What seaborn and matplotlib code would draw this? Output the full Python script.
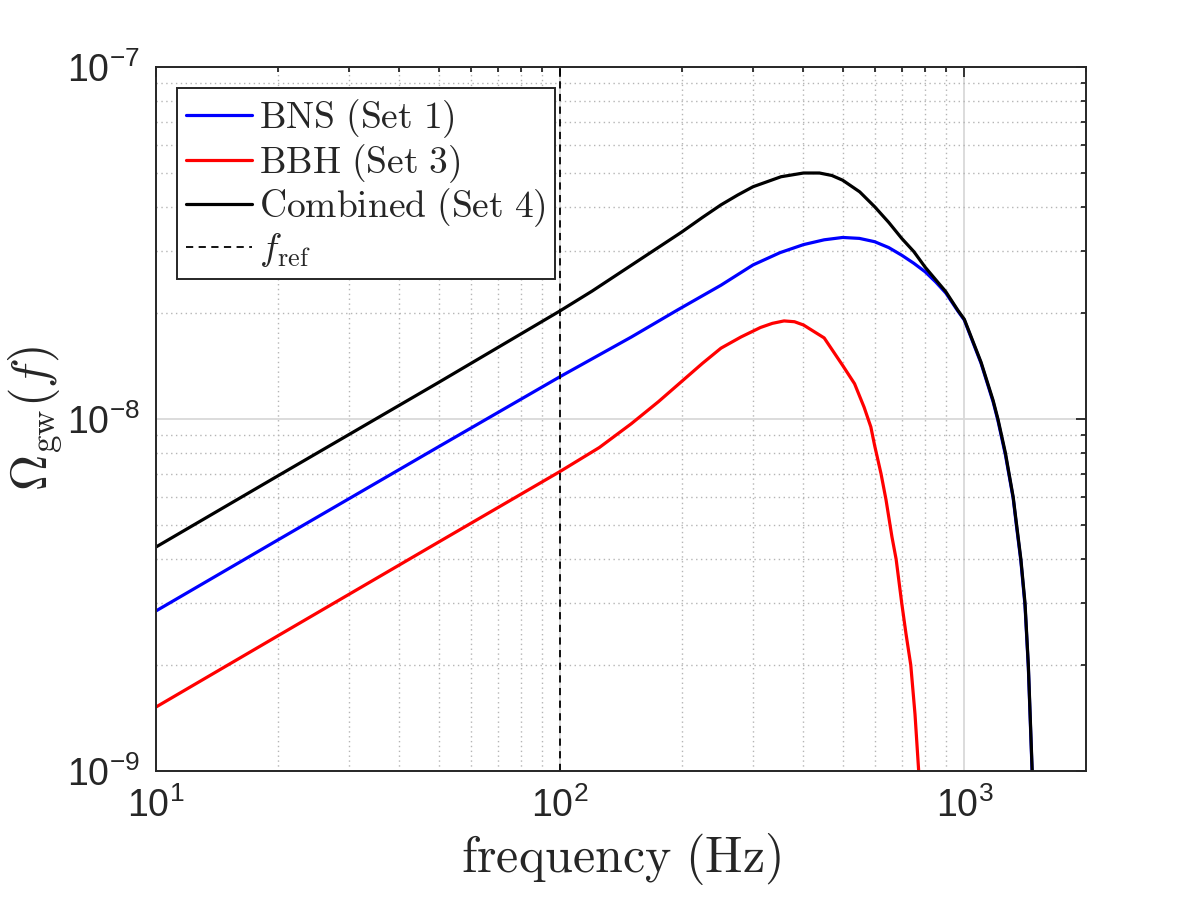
#!/usr/bin/env python3
import numpy as np
import pandas as pd
import matplotlib
matplotlib.use("Agg")
import matplotlib.pyplot as plt
from matplotlib.ticker import LogLocator, NullFormatter
import seaborn as sns

# values (frequency in Hz, Omega_gw)
freq_bns = [10, 20, 50, 100, 150, 195, 250, 300, 350, 400, 450, 500, 550, 600,
            650, 700, 750, 800, 850, 900, 963, 1000, 1100, 1178, 1211, 1264, 1321,
            1345, 1380, 1413, 1440, 1472, 1480]
omega_bns = [2.85e-9, 4.53e-9, 8.34e-9, 1.32e-8, 1.71e-8, 2.04e-8, 2.40e-8, 2.74e-8,
             2.97e-8, 3.13e-8, 3.23e-8, 3.28e-8, 3.26e-8, 3.19e-8, 3.07e-8, 2.92e-8,
             2.77e-8, 2.62e-8, 2.45e-8, 2.28e-8, 2.03e-8, 1.91e-8, 1.44e-8, 1.12e-8,
             0.99e-8, 7.9e-9, 5.95e-9, 5.0e-9, 3.95e-9, 2.95e-9, 1.97e-9, 0.98e-9, 0.8e-9]

freq_bbh = [10, 20, 50, 100, 125, 150, 175, 200, 225, 250, 280, 313, 335, 358, 380,
            400, 450, 500, 535, 565, 587, 600, 622, 640, 662, 678, 700, 717, 737,
            755, 771, 785]
omega_bbh = [1.52e-9, 2.42e-9, 4.47e-9, 7.1e-9, 8.3e-9, 9.7e-9, 1.12e-8, 1.28e-8,
             1.44e-8, 1.59e-8, 1.71e-8, 1.82e-8, 1.87e-8, 1.90e-8, 1.89e-8, 1.85e-8,
             1.70e-8, 1.42e-8, 1.26e-8, 1.08e-8, 9.5e-9, 8.4e-9, 7.0e-9, 5.9e-9,
             4.63e-9, 4.0e-9, 3.0e-9, 2.46e-9, 2.0e-9, 1.45e-9, 1.0e-9, 0.8e-9]

freq_comb = [10, 20, 50, 100, 120, 141, 171, 200, 225, 250, 275, 300, 352, 400, 438,
             470, 500, 551, 600, 650, 700, 750, 800, 900, 963, 1000, 1100, 1178, 1211,
             1264, 1321, 1345, 1380, 1413, 1440, 1472, 1480]
omega_comb = [4.33e-9, 6.89e-9, 1.27e-8, 2.03e-8, 2.31e-8, 2.61e-8, 3.02e-8, 3.40e-8,
              3.74e-8, 4.06e-8, 4.33e-8, 4.57e-8, 4.88e-8, 5.0e-8, 5.0e-8, 4.92e-8,
              4.77e-8, 4.42e-8, 4.01e-8, 3.62e-8, 3.26e-8, 2.99e-8, 2.70e-8, 2.30e-8,
              2.04e-8, 1.92e-8, 1.45e-8, 1.13e-8, 1.0e-8, 8.0e-9, 6.0e-9, 5.07e-9,
              4.0e-9, 3.0e-9, 2.0e-9, 1.0e-9, 0.85e-9]

f_ref = 100
labels = ["BNS (Set 1)", "BBH (Set 3)", "Combined (Set 4)"]
colors = ["#0000ff", "#ff0000", "#000000"]

sns.set_style("white")
plt.rcParams["font.family"] = ["Liberation Sans", "DejaVu Sans"]
plt.rcParams["mathtext.fontset"] = "cm"

fig = plt.figure(figsize=(12, 9), dpi=100)
ax = fig.add_axes([0.130, 0.1433, 0.775, 0.7822])

series = [(freq_bns, omega_bns), (freq_bbh, omega_bbh), (freq_comb, omega_comb)]
for (fx, fy), lab, col in zip(series, labels, colors):
    df = pd.DataFrame({"f": fx, "omega": fy})
    sns.lineplot(data=df, x="f", y="omega", ax=ax, color=col, lw=2.3,
                 sort=False, estimator=None, label=lab)

ax.axvline(f_ref, color="black", lw=1.3, ls=(0, (4, 3)), label="fref")

ax.set_xscale("log")
ax.set_yscale("log")
ax.set_xlim(10, 2000)
ax.set_ylim(1e-9, 1e-7)

ax.xaxis.set_major_locator(LogLocator(base=10, numticks=10))
ax.xaxis.set_minor_locator(LogLocator(base=10, subs=np.arange(2, 10), numticks=20))
ax.yaxis.set_major_locator(LogLocator(base=10, numticks=10))
ax.yaxis.set_minor_locator(LogLocator(base=10, subs=np.arange(2, 10), numticks=20))
ax.xaxis.set_minor_formatter(NullFormatter())
ax.yaxis.set_minor_formatter(NullFormatter())

ax.grid(True, which="major", color="#d9d9d9", lw=1.3, ls="-")
ax.grid(True, which="minor", color="#b5b5b5", lw=1.0, ls=(0, (1, 2.5)))
ax.set_axisbelow(True)

ax.tick_params(which="both", direction="in", top=True, right=True,
               colors="#262626", labelsize=27, width=1.3)
ax.tick_params(which="major", length=7.5, pad=12)
ax.tick_params(which="minor", length=3.8)
for s in ax.spines.values():
    s.set_color("#262626")
    s.set_linewidth(1.4)

ax.set_xlabel(r"$\mathrm{frequency\ (Hz)}$", fontsize=36, color="#262626", labelpad=4)
ax.set_ylabel(r"$\Omega_{\mathrm{gw}}(f)$", fontsize=36, color="#262626", labelpad=2)

h, l = ax.get_legend_handles_labels()
leg_labels = [r"$\mathrm{BNS\ (Set\ 1)}$", r"$\mathrm{BBH\ (Set\ 3)}$",
              r"$\mathrm{Combined\ (Set\ 4)}$", r"$f_{\mathrm{ref}}$"]
leg = ax.legend(h, leg_labels, loc="upper left", fontsize=27, frameon=True,
                fancybox=False, framealpha=1, edgecolor="#262626",
                handlelength=1.75, handletextpad=0.2, labelspacing=0.05,
                borderaxespad=0.55, borderpad=0.25)
leg.get_frame().set_linewidth(1.4)

fig.savefig("out.png", dpi=100)
